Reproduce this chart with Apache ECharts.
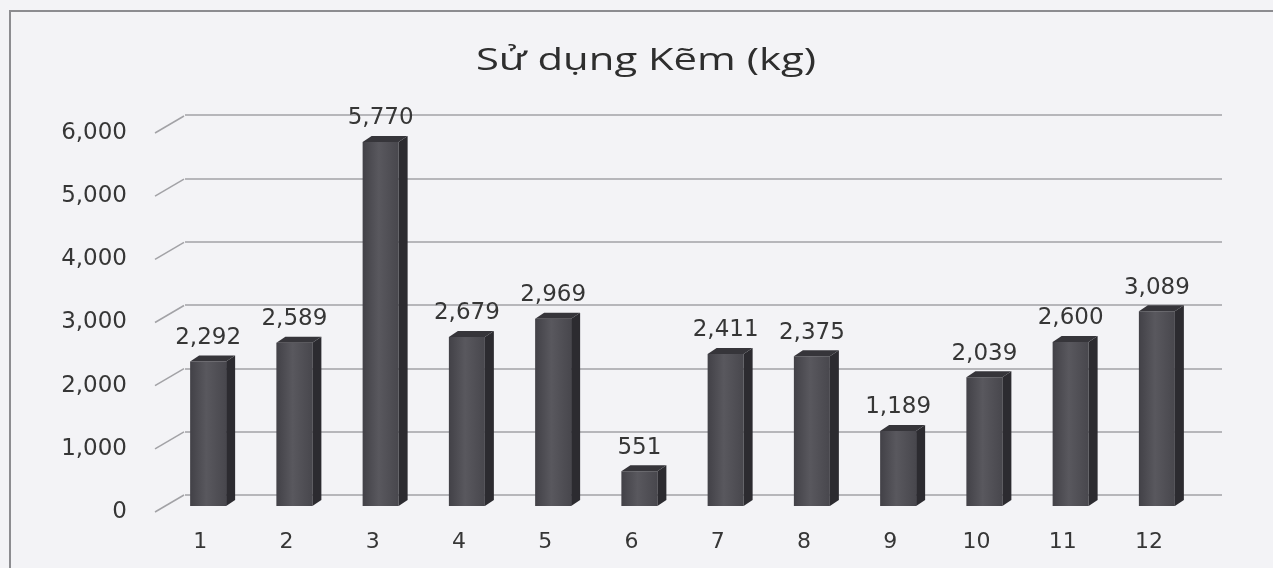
<!DOCTYPE html>
<html>
<head>
<meta charset="utf-8">
<title>Sử dụng Kẽm (kg)</title>
<script src="https://cdn.jsdelivr.net/npm/echarts@6/dist/echarts.min.js"></script>
<style>
  html, body { margin: 0; padding: 0; background: #f3f3f6; }
  #chart { width: 1273px; height: 568px; }
</style>
</head>
<body>
<div id="chart"></div>
<script>
// data
const months = ["1", "2", "3", "4", "5", "6", "7", "8", "9", "10", "11", "12"];
const zincKg = [2292, 2589, 5770, 2679, 2969, 551, 2411, 2375, 1189, 2039, 2600, 3089];
const yTicks = [0, 1000, 2000, 3000, 4000, 5000, 6000];

const textColor = "#363636";
const gridColor = "#a2a2a6";
const labelFont = "DejaVu Sans";
// 3d depth of bars (px)
const depthX = 9;
const depthY = 6;
// how far the floor diagonals reach to the front
const floorX = 29;
const floorY = 17;

const chart = echarts.init(document.getElementById("chart"));

const fmt = (v) => v.toLocaleString("en-US");

chart.setOption({
  backgroundColor: "#f3f3f6",
  animation: false,
  graphic: [
    {
      type: "polyline",
      shape: { points: [[10, 568], [10, 11], [1273, 11]] },
      style: { stroke: "#8c8c90", lineWidth: 2, fill: null },
      silent: true,
    },
    {
      // title, the scan is stretched sideways so the text is too
      type: "text",
      x: 646,
      y: 61,
      scaleX: 1.35,
      silent: true,
      style: {
        text: "Sử dụng Kẽm (kg)",
        x: 0,
        y: 0,
        align: "center",
        verticalAlign: "middle",
        fontFamily: "Open Sans",
        fontSize: 31,
        fill: "#2e2e2e",
      },
    },
  ],
  grid: [
    // back wall (gridlines)
    { left: 185, right: 51, top: 115, bottom: 73 },
    // front edge (y labels)
    { left: 155, right: 80, top: 133, bottom: 56 },
    // bars
    { left: 165, right: 73, top: 127.5, bottom: 62 },
  ],
  xAxis: [
    { gridIndex: 0, type: "category", data: months, show: false },
    { gridIndex: 1, type: "category", data: months, show: false },
    {
      gridIndex: 2,
      type: "category",
      data: months,
      axisLine: { show: false },
      axisTick: { show: false },
      axisLabel: {
        color: textColor,
        fontFamily: labelFont,
        fontSize: 22,
        margin: 25,
        padding: [0, 16, 0, 0],
      },
    },
  ],
  yAxis: [
    {
      gridIndex: 0,
      type: "value",
      min: 0,
      max: 6000,
      interval: 1000,
      axisLine: { show: false },
      axisTick: { show: false },
      axisLabel: { show: false },
      splitLine: { lineStyle: { color: gridColor, width: 1.5 } },
    },
    {
      gridIndex: 1,
      type: "value",
      min: 0,
      max: 6000,
      interval: 1000,
      axisLine: { show: false },
      axisTick: { show: false },
      splitLine: { show: false },
      axisLabel: {
        color: textColor,
        fontFamily: labelFont,
        fontSize: 23,
        margin: 28,
        formatter: fmt,
      },
    },
    {
      gridIndex: 2,
      type: "value",
      min: 0,
      max: 6000,
      interval: 1000,
      show: false,
    },
  ],
  series: [
    {
      // floor diagonals from the front edge to the back wall
      type: "custom",
      xAxisIndex: 1,
      yAxisIndex: 1,
      silent: true,
      data: yTicks.map((v) => [0, v]),
      renderItem: function (params, api) {
        const p = api.coord([0, api.value(1)]);
        const x0 = params.coordSys.x;
        return {
          type: "line",
          shape: { x1: x0, y1: p[1], x2: x0 + floorX, y2: p[1] - floorY },
          style: { stroke: gridColor, lineWidth: 1.5 },
        };
      },
    },
    {
      type: "bar",
      xAxisIndex: 2,
      yAxisIndex: 2,
      data: zincKg,
      barWidth: 36,
      itemStyle: {
        color: new echarts.graphic.LinearGradient(0, 0, 1, 0, [
          { offset: 0, color: "#424147" },
          { offset: 0.45, color: "#59585e" },
          { offset: 1, color: "#48474d" },
        ]),
      },
      label: {
        show: true,
        position: "top",
        distance: 12,
        color: textColor,
        fontFamily: labelFont,
        fontSize: 23,
        formatter: (p) => fmt(p.value),
      },
      z: 3,
    },
    {
      // side and top faces of the 3d bars
      type: "custom",
      xAxisIndex: 2,
      yAxisIndex: 2,
      silent: true,
      data: zincKg.map((v, i) => [i, v]),
      renderItem: function (params, api) {
        const base = api.coord([api.value(0), 0]);
        const top = api.coord([api.value(0), api.value(1)]);
        const x0 = base[0] - 18;
        const x1 = base[0] + 18;
        return {
          type: "group",
          children: [
            {
              type: "polygon",
              shape: {
                points: [
                  [x1, top[1]],
                  [x1 + depthX, top[1] - depthY],
                  [x1 + depthX, base[1] - depthY],
                  [x1, base[1]],
                ],
              },
              style: { fill: "#2c2b30" },
            },
            {
              type: "polygon",
              shape: {
                points: [
                  [x0, top[1]],
                  [x0 + depthX, top[1] - depthY],
                  [x1 + depthX, top[1] - depthY],
                  [x1, top[1]],
                ],
              },
              style: { fill: "#36353a" },
            },
          ],
        };
      },
      z: 4,
    },
  ],
});
</script>
</body>
</html>
